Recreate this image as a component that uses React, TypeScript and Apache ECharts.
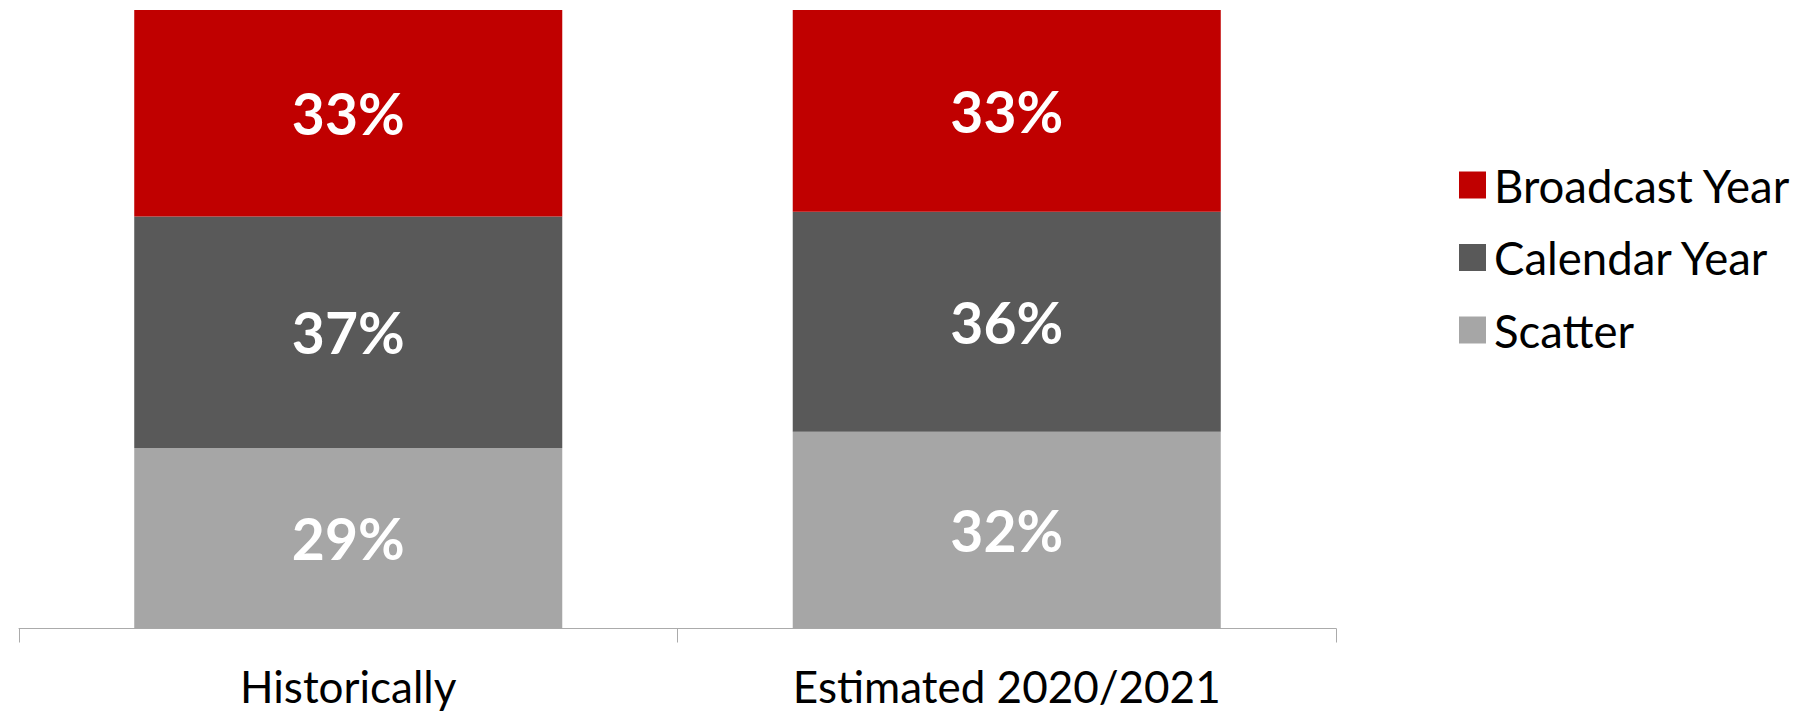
import React, { useEffect, useRef } from "react";
import * as echarts from "echarts";

const categories = ["Historically", "Estimated 2020/2021"];
const seriesNames = ["Scatter", "Calendar Year", "Broadcast Year"];
const scatterValues = [29.2, 31.8];
const calendarValues = [37.4, 35.6];
const broadcastValues = [33.4, 32.6];
const legendOrder = ["Broadcast Year", "Calendar Year", "Scatter"];
const colors = { "Scatter": "#A6A6A6", "Calendar Year": "#595959", "Broadcast Year": "#C00000" };

const FONT = "Lato, 'Noto Sans', sans-serif";

export default function App() {
  const ref = useRef<HTMLDivElement>(null);
  useEffect(() => {
    if (!ref.current) return;
    const chart = echarts.init(ref.current, null, { renderer: "svg" });
    const valuesByName: Record<string, number[]> = {
      "Scatter": scatterValues,
      "Calendar Year": calendarValues,
      "Broadcast Year": broadcastValues,
    };
    chart.setOption({
      animation: false,
      backgroundColor: "#ffffff",
      grid: { left: 19, right: 476, top: 10, bottom: 85.5, containLabel: false },
      legend: {
        data: legendOrder,
        orient: "vertical",
        left: 1454,
        top: 157,
        icon: "rect",
        itemWidth: 27,
        itemHeight: 27,
        itemGap: 26.5,
        selectedMode: false,
        textStyle: {
          fontFamily: FONT,
          fontSize: 45.5,
          color: "#000000",
          lineHeight: 27,
          padding: [0, 0, 0, 3],
        },
      },
      xAxis: {
        type: "category",
        data: categories,
        axisLine: { show: true, lineStyle: { color: "#ABABAB", width: 1 } },
        axisTick: { show: true, length: 14, lineStyle: { color: "#ABABAB", width: 1 } },
        axisLabel: {
          fontFamily: FONT,
          fontSize: 44,
          color: "#000000",
          margin: 35,
          lineHeight: 44,
        },
        splitLine: { show: false },
      },
      yAxis: {
        type: "value",
        min: 0,
        max: 100,
        show: false,
        splitLine: { show: false },
      },
      series: seriesNames.map((name) => ({
        name,
        type: "bar",
        stack: "total",
        barWidth: "65%",
        data: valuesByName[name],
        itemStyle: { color: (colors as any)[name] },
        label: {
          show: true,
          position: "inside",
          formatter: (p: any) => Math.round(p.value) + "%",
          fontFamily: FONT,
          fontWeight: "bold",
          fontSize: 57,
          color: "#ffffff",
        },
      })),
    });
    return () => chart.dispose();
  }, []);
  return (
    <div
      ref={ref}
      style={{ position: "absolute", left: 0, top: 0, width: 1812, height: 714 }}
    />
  );
}
